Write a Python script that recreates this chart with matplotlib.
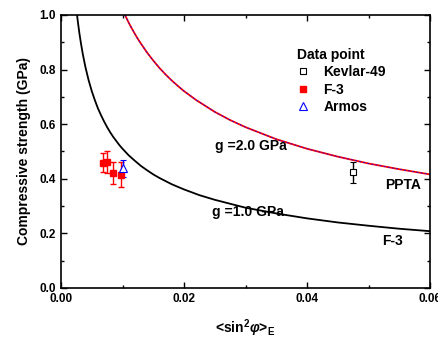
import matplotlib
matplotlib.use('Agg')
import matplotlib.pyplot as plt
from matplotlib.lines import Line2D
from matplotlib.ticker import MultipleLocator

plt.rcParams['font.family'] = ['Liberation Sans', 'DejaVu Sans']
plt.rcParams['font.weight'] = 'bold'
plt.rcParams['mathtext.fontset'] = 'custom'
plt.rcParams['mathtext.rm'] = 'Liberation Sans:bold'
plt.rcParams['mathtext.it'] = 'Liberation Sans:bold:italic'

# model curves
g1_x = [0.0025, 0.00275, 0.003, 0.00325, 0.0035, 0.00375, 0.004, 0.0045, 0.005, 0.0055,
        0.006, 0.0065, 0.007, 0.0075, 0.008, 0.0085, 0.009, 0.0095, 0.010, 0.011,
        0.012, 0.013, 0.014, 0.015, 0.016, 0.018, 0.020, 0.0225, 0.025, 0.030,
        0.035, 0.040, 0.045, 0.050, 0.055, 0.060]
g1_y = [1.020, 0.973, 0.931, 0.895, 0.862, 0.833, 0.806, 0.760, 0.721, 0.688,
        0.658, 0.633, 0.610, 0.589, 0.570, 0.553, 0.538, 0.523, 0.510, 0.486,
        0.466, 0.447, 0.431, 0.416, 0.403, 0.380, 0.361, 0.340, 0.323, 0.294,
        0.273, 0.255, 0.240, 0.228, 0.217, 0.208]
g2_x = [0.0104, 0.0107, 0.011, 0.0115, 0.012, 0.0125, 0.013, 0.014, 0.015, 0.016,
        0.017, 0.018, 0.019, 0.020, 0.022, 0.025, 0.0275, 0.030, 0.035, 0.040,
        0.045, 0.050, 0.055, 0.060]
g2_y = [1.000, 0.986, 0.972, 0.951, 0.931, 0.912, 0.895, 0.862, 0.833, 0.806,
        0.782, 0.760, 0.740, 0.721, 0.688, 0.645, 0.615, 0.589, 0.545, 0.510,
        0.481, 0.456, 0.435, 0.416]

# data points
kev_x = [0.0475]
kev_y = [0.423]
kev_err = [0.04]
f3_x = [0.0068, 0.0075, 0.0085, 0.0097]
f3_y = [0.459, 0.462, 0.420, 0.415]
f3_err = [0.035, 0.04, 0.04, 0.046]
arm_x = [0.0101]
arm_y = [0.438]
arm_err = [0.03]

fig = plt.figure(figsize=(4.39, 3.40), dpi=100)
ax = fig.add_axes([0.139, 0.153, 0.8405, 0.803])

ax.plot(g1_x, g1_y, color='black', lw=1.3)
ax.plot(g2_x, g2_y, color='red', lw=1.3)
ax.plot(g2_x, g2_y, color='blue', lw=0.5, ls=(0, (3, 3)))

ax.errorbar(kev_x, kev_y, yerr=kev_err, fmt='s', color='black', mfc='white', ms=5,
            mew=0.8, capsize=2.5, elinewidth=1)
ax.errorbar(f3_x, f3_y, yerr=f3_err, fmt='s', color='red', ms=5,
            capsize=2.5, elinewidth=1)
ax.errorbar(arm_x, arm_y, yerr=arm_err, fmt='^', color='blue', mfc='white', ms=6,
            mew=0.8, capsize=2.5, elinewidth=1)

ax.text(0.0251, 0.505, 'g =2.0 GPa', fontsize=10, fontweight='bold')
ax.text(0.0245, 0.262, 'g =1.0 GPa', fontsize=10, fontweight='bold')
ax.text(0.0527, 0.362, 'PPTA', fontsize=10, fontweight='bold')
ax.text(0.0522, 0.158, 'F-3', fontsize=10, fontweight='bold')

handles = [
    Line2D([], [], ls='none', marker='s', color='black', mfc='white', ms=5, mew=0.8),
    Line2D([], [], ls='none', marker='s', color='red', ms=5),
    Line2D([], [], ls='none', marker='^', color='blue', mfc='white', ms=6, mew=0.8),
]
leg = ax.legend(handles=handles, labels=['Kevlar-49', 'F-3', 'Armos'],
                title='Data point', frameon=False, fontsize=10, loc='upper left',
                bbox_to_anchor=(0.625, 0.9), handlelength=0.8, handletextpad=1.1,
                labelspacing=0.25, borderaxespad=0)
leg.get_title().set_fontweight('bold')
leg.get_title().set_fontsize(10)
leg._legend_box.align = 'left'

ax.set_xlim(0, 0.06)
ax.set_ylim(0, 1.0)
ax.xaxis.set_major_locator(MultipleLocator(0.02))
ax.xaxis.set_minor_locator(MultipleLocator(0.01))
ax.yaxis.set_major_locator(MultipleLocator(0.2))
ax.yaxis.set_minor_locator(MultipleLocator(0.1))
ax.xaxis.set_major_formatter(plt.FuncFormatter(lambda v, p: f'{v:.2f}'))
ax.yaxis.set_major_formatter(plt.FuncFormatter(lambda v, p: f'{v:.1f}'))
ax.tick_params(which='both', direction='in', top=True, right=True, labelsize=8.5, width=1)
ax.tick_params(which='major', length=4)
ax.tick_params(which='minor', length=2.5)
for s in ax.spines.values():
    s.set_linewidth(1.2)
for lab in ax.get_xticklabels() + ax.get_yticklabels():
    lab.set_fontweight('bold')

ax.set_xlabel(r'<sin$^2$$\varphi$>$_\mathregular{E}$', fontsize=10, fontweight='bold', labelpad=9)
ax.set_ylabel('Compressive strength (GPa)', fontsize=10, fontweight='bold', labelpad=6)

fig.savefig('out.png', dpi=100)
